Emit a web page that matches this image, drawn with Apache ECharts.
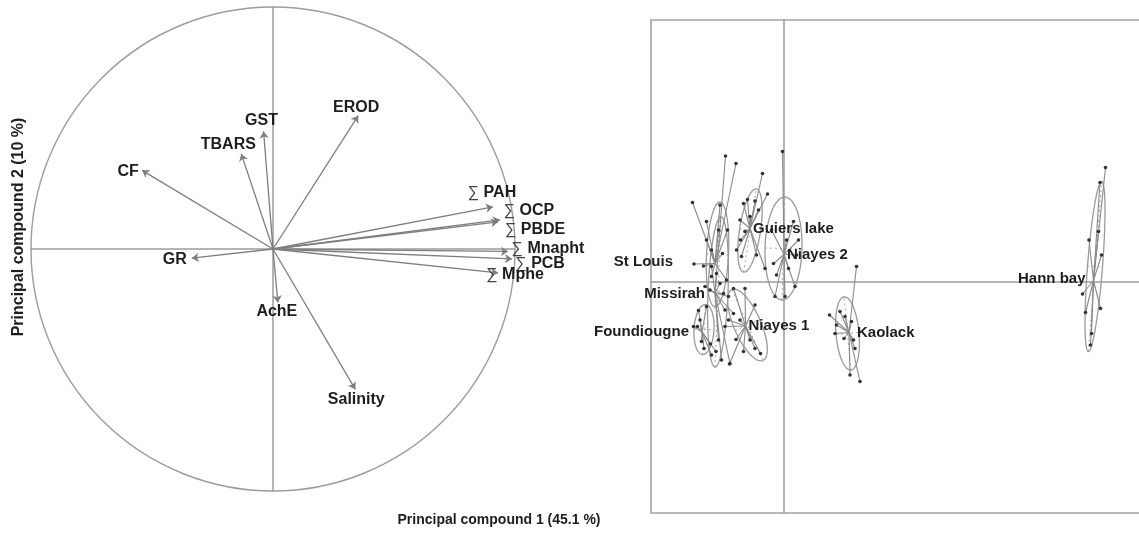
<!DOCTYPE html>
<html>
<head>
<meta charset="utf-8">
<script src="https://cdn.jsdelivr.net/npm/echarts@6/dist/echarts.min.js"></script>
<style>
  html, body { margin: 0; padding: 0; background: #fff; }
  #chart { width: 1139px; height: 545px; }
</style>
</head>
<body>
<div id="chart"></div>
<script>
// ---- Correlation circle: loadings of each variable on PC1 / PC2 ----
const variables   = ['EROD', 'GST', 'TBARS', 'CF', 'GR', 'AchE', 'Salinity',
                     '∑ PAH', '∑ OCP', '∑ PBDE', '∑ Mnapht', '∑ PCB', '∑ Mphe'];
const loadingsPC1 = [0.352, -0.039, -0.131, -0.541, -0.336, 0.020, 0.340,
                     0.909, 0.938, 0.930, 0.971, 0.988, 0.930];
const loadingsPC2 = [0.551, 0.486, 0.393, 0.325, -0.038, -0.221, -0.580,
                     0.174, 0.120, 0.112, -0.010, -0.041, -0.099];

// ---- Site scores on PC1 / PC2 ----
const sites = ['Guiers lake', 'Niayes 2', 'St Louis', 'Missirah',
               'Foundiougne', 'Niayes 1', 'Kaolack', 'Hann bay'];
const siteCentroids = [[-0.68, 1.07], [0.00, 0.55], [-1.38, 0.37], [-1.38, -0.22],
                       [-1.64, -1.00], [-0.77, -0.88], [1.30, -1.01], [6.19, 0.03]];

const guiersLake = [[-0.43, 2.17], [-0.73, 1.65], [-0.81, 1.57], [-0.58, 1.62], [-0.33, 1.76],
                    [-0.51, 1.44], [-0.88, 1.24], [-0.78, 1.01], [-0.87, 0.84], [-0.85, 0.51],
                    [-0.55, 0.54], [-0.38, 0.27], [-0.68, 1.31], [-0.95, 0.64]];
const niayes2    = [[-0.03, 2.61], [0.19, 1.21], [0.05, 0.84], [0.29, 0.84], [0.25, 0.54],
                    [-0.21, 0.37], [0.09, 0.27], [-0.15, 0.14], [0.22, -0.09], [-0.18, -0.29],
                    [0.02, -0.29], [-0.25, 1.04]];
const stLouis    = [[-1.83, 1.59], [-0.96, 2.37], [-1.28, 1.54], [-1.31, 1.04], [-1.55, 0.84],
                    [-1.13, 1.04], [-1.45, 0.64], [-1.23, 0.57], [-1.80, 0.36], [-1.61, 0.32],
                    [-1.45, 0.11], [-1.15, 0.04], [-1.55, 1.21]];
const missirah   = [[-1.17, 2.52], [-1.28, -0.03], [-1.21, -0.23], [-1.11, -0.29], [-1.48, -0.16],
                    [-1.58, -0.09], [-1.01, -0.63], [-1.18, -0.56], [-1.31, -1.16], [-1.25, -1.56],
                    [-1.08, -1.63], [-1.35, 0.17], [-1.45, 0.31]];
const foundiougne = [[-1.71, -0.57], [-1.73, -0.89], [-1.81, -0.89], [-1.65, -1.19], [-1.60, -1.33],
                     [-1.47, -1.24], [-1.55, -0.49], [-1.45, -1.46], [-1.68, -0.76], [-1.36, -1.39]];
const niayes1    = [[-0.78, -0.13], [-0.58, -0.46], [-0.68, -1.16], [-0.58, -1.33], [-0.47, -1.43],
                    [-0.81, -1.39], [-0.96, -1.15], [-1.09, -1.64], [-1.11, -0.76], [-0.88, -0.76],
                    [-1.01, -0.13], [-1.18, -0.89]];
const kaolack    = [[1.45, 0.31], [0.91, -0.66], [1.12, -0.59], [1.05, -0.86], [1.20, -1.13],
                    [1.42, -1.33], [1.32, -1.86], [1.52, -1.99], [1.35, -0.79], [1.02, -1.03],
                    [1.39, -1.16], [1.22, -0.69]];
const hannBay    = [[6.43, 2.29], [6.32, 1.99], [6.29, 1.01], [6.10, 0.84], [6.35, 0.54],
                    [5.97, -0.24], [6.03, -0.61], [6.33, -0.53], [6.15, -1.03], [6.13, -1.26]];
const siteScores = [guiersLake, niayes2, stLouis, missirah, foundiougne, niayes1, kaolack, hannBay];

// Inertia ellipses: centre x, centre y, semi-major axis vector (x, y), semi-minor length
const siteEllipses = [[-0.68, 1.03, 0.127, 0.833, 0.21],
                      [-0.01, 0.67, 0.03, 1.03, 0.37],
                      [-1.33, 0.55, 0.05, 1.05, 0.22],
                      [-1.32, -0.20, 0.06, 1.50, 0.20],
                      [-1.60, -0.95, 0.03, 0.50, 0.20],
                      [-0.73, -0.86, -0.31, 0.71, 0.27],
                      [1.27, -1.03, -0.067, 0.733, 0.23],
                      [6.22, 0.31, 0.133, 1.70, 0.15]];

// ---- Styling ----
const FONT = '"Liberation Sans", Arial, Helvetica, sans-serif';
const TEXT = '#1e1e1e';
const GREY = '#9c9c9c';

// label centre offset (px) from the arrow tip
const varLabelOffset = {
  'EROD': [-2, -8], 'GST': [-2, -11], 'TBARS': [-13, -9], 'CF': [-14, 1], 'GR': [-17, 1],
  'AchE': [-1, 9], 'Salinity': [1, 10], '∑ PAH': [-1, -14], '∑ OCP': [29, -9],
  '∑ PBDE': [37, 8], '∑ Mnapht': [40, -3], '∑ PCB': [28, 5], '∑ Mphe': [17, 2]
};
// site label: alignment + offset from the centroid
const siteLabelPlace = {
  'Guiers lake': ['left', [3, 0]], 'Niayes 2': ['left', [3, 0]], 'St Louis': ['right', [-42, -2]],
  'Missirah': ['right', [-10, 1]], 'Foundiougne': ['right', [-13, 0]], 'Niayes 1': ['left', [3, 0]],
  'Kaolack': ['left', [8, 0]], 'Hann bay': ['right', [-8, -2]]
};

const hiddenAxis = (extra) => Object.assign({
  type: 'value',
  axisTick: { show: false },
  axisLabel: { show: false },
  splitLine: { show: false },
  axisLine: { show: true, onZero: true, lineStyle: { color: GREY, width: 1.5 } }
}, extra);

const arrowData = variables.map((v, i) => ({ coords: [[0, 0], [loadingsPC1[i], loadingsPC2[i]]] }));
const varLabelData = variables.map((v, i) => {
  const rich = v.startsWith('∑');
  return {
    name: v,
    value: [loadingsPC1[i], loadingsPC2[i]],
    label: {
      offset: varLabelOffset[v],
      formatter: rich ? '{s|∑} ' + v.slice(2) : v,
    }
  };
});

const starData = [];
siteScores.forEach((pts, g) => {
  pts.forEach(p => starData.push({ coords: [p, siteCentroids[g]] }));
});
const pointData = [].concat(...siteScores);
const siteLabelData = sites.map((s, g) => ({
  name: s,
  value: siteCentroids[g],
  label: { align: siteLabelPlace[s][0], offset: siteLabelPlace[s][1] }
}));

const chart = echarts.init(document.getElementById('chart'), null, { renderer: 'canvas' });
chart.setOption({
  animation: false,
  backgroundColor: '#ffffff',
  grid: [
    { left: 31, top: 7, width: 484, height: 484, show: false, outerBoundsMode: 'none', containLabel: false },
    { left: 651, top: 20, width: 508, height: 493, show: true, outerBoundsMode: 'none', containLabel: false,
      borderColor: '#a2a2a2', borderWidth: 1.6, backgroundColor: 'transparent' }
  ],
  xAxis: [
    hiddenAxis({ gridIndex: 0, min: -1, max: 1 }),
    hiddenAxis({ gridIndex: 1, min: -2.66, max: 7.5 })
  ],
  yAxis: [
    hiddenAxis({ gridIndex: 0, min: -1, max: 1 }),
    hiddenAxis({ gridIndex: 1, min: -4.62, max: 5.24 })
  ],
  graphic: [
    { type: 'text', x: 19, y: 227, rotation: Math.PI / 2,
      style: { text: 'Principal compound 2 (10 %)', font: 'bold 16px ' + FONT, fill: TEXT,
               textAlign: 'center', textVerticalAlign: 'middle' } },
    { type: 'text', x: 499, y: 520,
      style: { text: 'Principal compound 1 (45.1 %)', font: 'bold 14px ' + FONT, fill: TEXT,
               textAlign: 'center', textVerticalAlign: 'middle' } }
  ],
  series: [
    // unit circle
    {
      type: 'custom', xAxisIndex: 0, yAxisIndex: 0, silent: true,
      data: [[0, 0]],
      renderItem: (params, api) => {
        const c = api.coord([0, 0]);
        const r = api.coord([1, 0])[0] - c[0];
        return { type: 'circle', shape: { cx: c[0], cy: c[1], r: r },
                 style: { fill: 'none', stroke: GREY, lineWidth: 1.4 } };
      }
    },
    // variable arrows
    {
      type: 'lines', coordinateSystem: 'cartesian2d', xAxisIndex: 0, yAxisIndex: 0, silent: true,
      symbol: ['none', 'arrow'], symbolSize: 7,
      lineStyle: { color: '#7e7e7e', width: 1.3, opacity: 1 },
      data: arrowData
    },
    // variable names
    {
      type: 'scatter', xAxisIndex: 0, yAxisIndex: 0, silent: true, symbolSize: 0,
      itemStyle: { opacity: 1 },
      label: {
        show: true, position: 'inside', align: 'center', verticalAlign: 'middle',
        fontFamily: FONT, fontWeight: 'bold', fontSize: 16, color: TEXT, opacity: 1,
        rich: { s: { fontFamily: FONT, fontWeight: 'normal', fontSize: 16, color: '#444' } }
      },
      data: varLabelData
    },
    // inertia ellipses with their axes
    {
      type: 'custom', xAxisIndex: 1, yAxisIndex: 1, silent: true,
      data: siteEllipses,
      renderItem: (params, api) => {
        const cx = api.value(0), cy = api.value(1), ax = api.value(2), ay = api.value(3), b = api.value(4);
        const c = api.coord([cx, cy]);
        const a = api.coord([cx + ax, cy + ay]);
        const ux = a[0] - c[0], uy = a[1] - c[1];
        const len = Math.hypot(ux, uy);
        const bp = api.coord([cx + b, cy])[0] - c[0];
        const nx = -uy / len * bp, ny = ux / len * bp;
        const pts = [];
        for (let k = 0; k < 96; k++) {
          const t = k / 96 * Math.PI * 2;
          pts.push([c[0] + ux * Math.cos(t) + nx * Math.sin(t),
                    c[1] + uy * Math.cos(t) + ny * Math.sin(t)]);
        }
        const dash = { stroke: '#a8a8a8', lineWidth: 1, lineDash: [2, 3] };
        return {
          type: 'group',
          children: [
            { type: 'line', shape: { x1: c[0] - ux, y1: c[1] - uy, x2: c[0] + ux, y2: c[1] + uy }, style: dash },
            { type: 'line', shape: { x1: c[0] - nx, y1: c[1] - ny, x2: c[0] + nx, y2: c[1] + ny }, style: dash },
            { type: 'polygon', shape: { points: pts },
              style: { fill: 'none', stroke: '#9a9a9a', lineWidth: 1.3 } }
          ]
        };
      }
    },
    // star links from each sample to its site centroid
    {
      type: 'lines', coordinateSystem: 'cartesian2d', xAxisIndex: 1, yAxisIndex: 1, silent: true,
      lineStyle: { color: '#8a8a8a', width: 1.1, opacity: 1 },
      data: starData
    },
    // samples
    {
      type: 'scatter', xAxisIndex: 1, yAxisIndex: 1, silent: true,
      symbol: 'circle', symbolSize: 3.6,
      itemStyle: { color: '#333', opacity: 1 },
      data: pointData
    },
    // site names
    {
      type: 'scatter', xAxisIndex: 1, yAxisIndex: 1, silent: true, symbolSize: 0,
      itemStyle: { opacity: 1 },
      label: {
        show: true, position: 'inside', verticalAlign: 'middle',
        fontFamily: FONT, fontWeight: 'bold', fontSize: 15, color: TEXT, opacity: 1,
        formatter: p => p.name
      },
      data: siteLabelData
    }
  ]
});
</script>
</body>
</html>
